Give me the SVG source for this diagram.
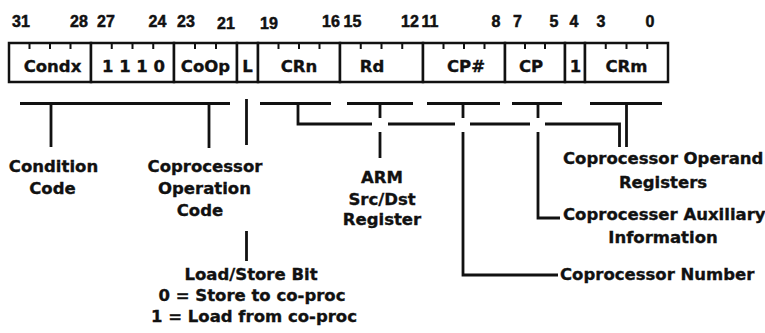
<svg xmlns="http://www.w3.org/2000/svg" width="765" height="333" viewBox="0 0 765 333">
<style>
text{font-family:"DejaVu Sans","Liberation Sans",sans-serif;font-weight:bold;fill:#111;stroke:#111;stroke-width:0.35}
.bn{font-family:"Liberation Sans",Arial,sans-serif;font-size:16px;text-anchor:middle;stroke-width:0.5}
.fl{font-size:16.5px;text-anchor:middle}
.lb{font-size:16.5px}
.c{text-anchor:middle}
.f{fill:#fff;stroke:#111;stroke-width:2.5}
.t{stroke:#111;stroke-width:2}
.w{fill:none;stroke:#111;stroke-width:2.8;stroke-linecap:butt}
</style>
<rect width="765" height="333" fill="#fff"/>
<g id="bitnumbers">
<text class="bn" x="21" y="27">31</text>
<text class="bn" x="79" y="27">28</text>
<text class="bn" x="106" y="27">27</text>
<text class="bn" x="157.5" y="27">24</text>
<text class="bn" x="186" y="27">23</text>
<text class="bn" x="226" y="28.5">21</text>
<text class="bn" x="269" y="28.5">19</text>
<text class="bn" x="331" y="27">16</text>
<text class="bn" x="352.5" y="27">15</text>
<text class="bn" x="410" y="27">12</text>
<text class="bn" x="430" y="27">11</text>
<text class="bn" x="496" y="27">8</text>
<text class="bn" x="517.5" y="27">7</text>
<text class="bn" x="554" y="27">5</text>
<text class="bn" x="574" y="27">4</text>
<text class="bn" x="601" y="27">3</text>
<text class="bn" x="650" y="27">0</text>
</g>
<g id="field-condx">
<rect class="f" x="9" y="43" width="82" height="39"/>
<path class="t" d="M29.5 43v6M50 43v6M70.5 43v6"/>
<text class="fl" x="52.5" y="72">Condx</text>
</g>
<g id="field-1110">
<rect class="f" x="91" y="43" width="83" height="39"/>
<path class="t" d="M111.75 43v6M132.5 43v6M153.25 43v6"/>
<text class="fl" x="133.5" y="72">1 1 1 0</text>
</g>
<g id="field-coop">
<rect class="f" x="174" y="43" width="63" height="39"/>
<path class="t" d="M195 43v6M216 43v6"/>
<text class="fl" x="205.5" y="72">CoOp</text>
</g>
<g id="field-l">
<rect class="f" x="237" y="43" width="21" height="39"/>
<text class="fl" x="247.5" y="72">L</text>
</g>
<g id="field-crn">
<rect class="f" x="258" y="43" width="82" height="39"/>
<path class="t" d="M278.5 43v6M299 43v6M319.5 43v6"/>
<text class="fl" x="299" y="72">CRn</text>
</g>
<g id="field-rd">
<rect class="f" x="340" y="43" width="83" height="39"/>
<path class="t" d="M360.75 43v6M381.5 43v6M402.25 43v6"/>
<text class="fl" x="372" y="72">Rd</text>
</g>
<g id="field-cpnum">
<rect class="f" x="423" y="43" width="82" height="39"/>
<path class="t" d="M443.5 43v6M464 43v6M484.5 43v6"/>
<text class="fl" x="466" y="72">CP#</text>
</g>
<g id="field-cp">
<rect class="f" x="505" y="43" width="60" height="39"/>
<path class="t" d="M525 43v6M545 43v6"/>
<text class="fl" x="531" y="72">CP</text>
</g>
<g id="field-one">
<rect class="f" x="565" y="43" width="20" height="39"/>
<text class="fl" x="575.5" y="72">1</text>
</g>
<g id="field-crm">
<rect class="f" x="585" y="43" width="83" height="39"/>
<path class="t" d="M605.75 43v6M626.5 43v6M647.25 43v6"/>
<text class="fl" x="626.5" y="72">CRm</text>
</g>
<g id="connectors">
<path class="w" d="M20 103.5H230M51 103.5V147M209 103.5V148"/>
<path class="w" d="M246.5 99V145M246.5 231V261"/>
<path class="w" d="M260 103.5H331M347 103.5H413M427 103.5H500M512 103.5H562M590 103.5H662"/>
<path class="w" d="M298 103.5V124H372M388 124H455M470 124H530M545 124H619.5V147"/>
<path class="w" d="M626.5 103.5V147"/>
<path class="w" d="M380 103.5V118M380 132V158"/>
<path class="w" d="M463 103.5V118M463 132V275H558"/>
<path class="w" d="M538 103.5V118M538 132V218H560"/>
</g>
<g id="label-condition">
<text class="lb c" x="53.5" y="172">Condition</text>
<text class="lb c" x="52.5" y="194">Code</text>
</g>
<g id="label-coop">
<text class="lb c" x="205" y="172">Coprocessor</text>
<text class="lb c" x="204.5" y="194">Operation</text>
<text class="lb c" x="200" y="216">Code</text>
</g>
<g id="label-loadstore">
<text class="lb c" x="251" y="280">Load/Store Bit</text>
<text class="lb c" x="252" y="301">0 = Store to co-proc</text>
<text class="lb c" x="254" y="322">1 = Load from co-proc</text>
</g>
<g id="label-arm">
<text class="lb c" x="382" y="183">ARM</text>
<text class="lb c" x="382" y="205">Src/Dst</text>
<text class="lb c" x="382" y="225">Register</text>
</g>
<g id="label-operand">
<text class="lb" x="563" y="164">Coprocessor Operand</text>
<text class="lb c" x="663" y="188">Registers</text>
</g>
<g id="label-aux">
<text class="lb" x="563" y="220">Coprocesser Auxiliary</text>
<text class="lb c" x="663" y="243">Information</text>
</g>
<g id="label-cpnum">
<text class="lb" x="560" y="280">Coprocessor Number</text>
</g>
</svg>
